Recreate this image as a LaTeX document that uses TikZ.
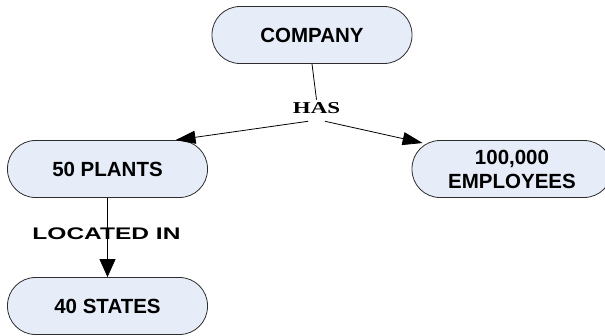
\documentclass[tikz,border=0pt]{standalone}
\usepackage{fontspec}
\usepackage{graphicx}
\setmainfont{Liberation Sans}
\newfontfamily\labelserif{Liberation Serif}
\usetikzlibrary{arrows.meta,calc}
\definecolor{boxfill}{RGB}{230,237,248}
\definecolor{boxline}{RGB}{45,45,45}
\tikzset{
  concept/.style={draw=boxline, fill=boxfill, line width=0.8pt,
    rounded corners=28pt, minimum width=200pt, minimum height=57pt,
    inner sep=0pt, align=center,
    font=\fontsize{20.5}{24}\selectfont\bfseries},
  linkword/.style={inner sep=3pt},
  conn/.style={draw=black, line width=0.8pt},
  diagtip/.style={-{Triangle[length=20pt,width=13pt]}},
  verttip/.style={-{Triangle[length=18pt,width=16pt]}}
}
\begin{document}
\begin{tikzpicture}[x=1pt,y=-1pt]
  \useasboundingbox (0,0) rectangle (605,335);
  \begin{scope}
    \clip (0,0) rectangle (605,335);
    \node[concept] (company) at (312,35) {COMPANY};
    \node[concept] (plants) at (107.5,169) {50 PLANTS};
    \node[concept] (employees) at (512,169) {100,000\\EMPLOYEES};
    \node[concept] (states) at (107.5,306) {40 STATES};

    \node[linkword] (has) at (316.5,108.5)
      {\scalebox{1.38}[1]{\labelserif\fontsize{16.6}{18}\selectfont\bfseries HAS}};
    \node[inner sep=0pt] (located) at (106.5,234)
      {\scalebox{1.46}[1]{\fontsize{16.8}{18}\selectfont\bfseries LOCATED IN}};

    \draw[conn] (company.south) -- (has.north);
    \draw[conn,diagtip] ($(has.south)+(-8.5,4)$) -- ($(plants.north)+(68,0)$);
    \draw[conn,diagtip] ($(has.south)+(8.5,4)$) -- ($(employees.west)+(11,-26)$);
    \draw[conn,verttip] (plants.south) -- (states.north);
  \end{scope}
\end{tikzpicture}
\end{document}
